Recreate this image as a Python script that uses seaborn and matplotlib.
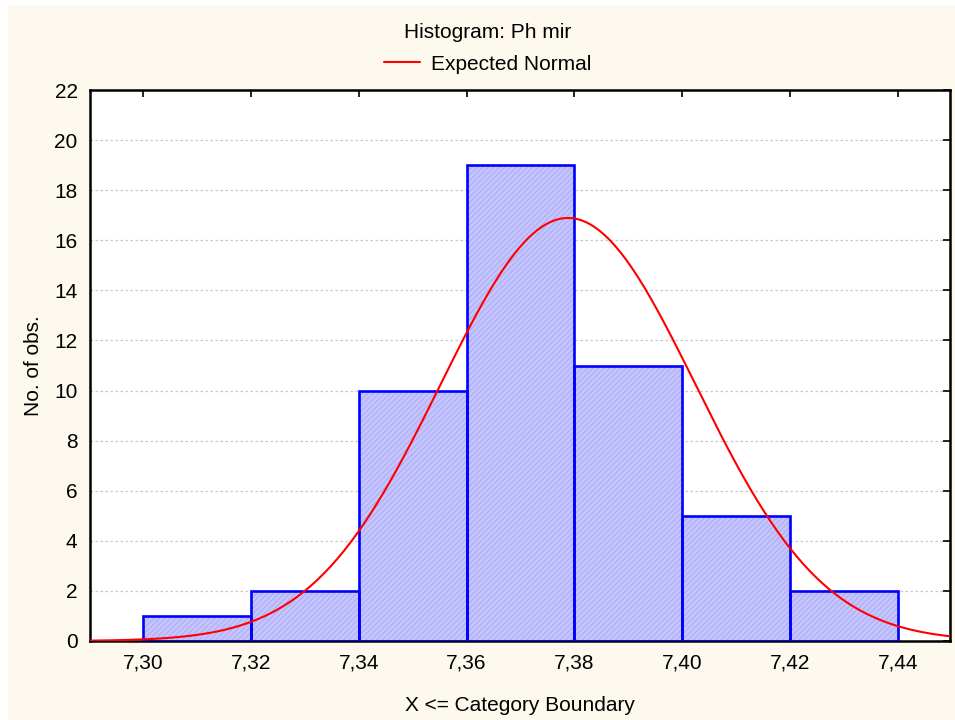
import numpy as np
import pandas as pd
import matplotlib
matplotlib.use("Agg")
import matplotlib.pyplot as plt
import seaborn as sns

# Data
bin_edges = [7.30, 7.32, 7.34, 7.36, 7.38, 7.40, 7.42, 7.44]
counts = [1, 2, 10, 19, 11, 5, 2]
fit_mean = 7.3788
fit_sd = 0.02362
n_obs = 50
x_ticks = [7.30, 7.32, 7.34, 7.36, 7.38, 7.40, 7.42, 7.44]
x_tick_labels = ["7,30", "7,32", "7,34", "7,36", "7,38", "7,40", "7,42", "7,44"]
y_ticks = [0, 2, 4, 6, 8, 10, 12, 14, 16, 18, 20, 22]

sns.set_theme(style="white")
plt.rcParams['font.family'] = ['Liberation Sans', 'DejaVu Sans']
plt.rcParams['hatch.linewidth'] = 0.6
plt.rcParams['text.color'] = 'black'
plt.rcParams['axes.labelcolor'] = 'black'

FS = 15

fig = plt.figure(figsize=(9.55, 7.2), dpi=100)
fig.patch.set_facecolor("white")
bg = plt.Rectangle((8 / 955, 0), 1, (720 - 5) / 720, transform=fig.transFigure,
                   facecolor="#fdf9ef", edgecolor="none", zorder=-10)
fig.patches.append(bg)

ax = fig.add_axes([90 / 955, (720 - 641) / 720, 860 / 955, 551 / 720])
ax.set_facecolor("white")

centers = [(bin_edges[i] + bin_edges[i + 1]) / 2 for i in range(len(counts))]
df = pd.DataFrame({"x": centers, "w": counts})

# hatched fill layer
sns.histplot(data=df, x="x", weights="w", bins=bin_edges, ax=ax,
             color="#c4c4ff", edgecolor="#a8a8f0", linewidth=0, hatch="//////",
             alpha=1, zorder=2)
# outline layer
sns.histplot(data=df, x="x", weights="w", bins=bin_edges, ax=ax,
             fill=False, color="#0000ff", linewidth=1.9, element="bars",
             zorder=3)

xs = np.linspace(7.29, 7.45, 400)
bw = bin_edges[1] - bin_edges[0]
ys = n_obs * bw / (fit_sd * np.sqrt(2 * np.pi)) * np.exp(-0.5 * ((xs - fit_mean) / fit_sd) ** 2)
sns.lineplot(x=xs, y=ys, ax=ax, color="#ff0000", linewidth=1.5, zorder=4,
             label="Expected Normal")

ax.set_xlim(7.2902, 7.4496)
ax.set_ylim(0, 22)
ax.set_xticks(x_ticks)
ax.set_xticklabels(x_tick_labels)
ax.set_yticks(y_ticks)
ax.yaxis.grid(True, color="#c8c8c8", linestyle=(0, (2, 2)), linewidth=0.9, zorder=0)
ax.xaxis.grid(False)
ax.set_axisbelow(True)
ax.tick_params(axis="both", direction="in", length=5, width=1.2, colors="black",
               labelsize=FS, top=True, right=True, labeltop=False, labelright=False,
               pad=9)
for s in ax.spines.values():
    s.set_visible(True)
    s.set_color("black")
    s.set_linewidth(1.8)

ax.set_xlabel("X <= Category Boundary", fontsize=FS, labelpad=17)
ax.set_ylabel("No. of obs.", fontsize=FS, labelpad=8)

fig.text(488 / 955, 1 - 32 / 720, "Histogram: Ph mir", ha="center", va="center", fontsize=FS)
ax.legend(loc="center", bbox_to_anchor=(488 / 955, 1 - 64 / 720), bbox_transform=fig.transFigure,
          frameon=False, fontsize=FS, handlelength=1.7, handletextpad=0.55)

fig.savefig("out.png", dpi=100, facecolor=fig.get_facecolor())
